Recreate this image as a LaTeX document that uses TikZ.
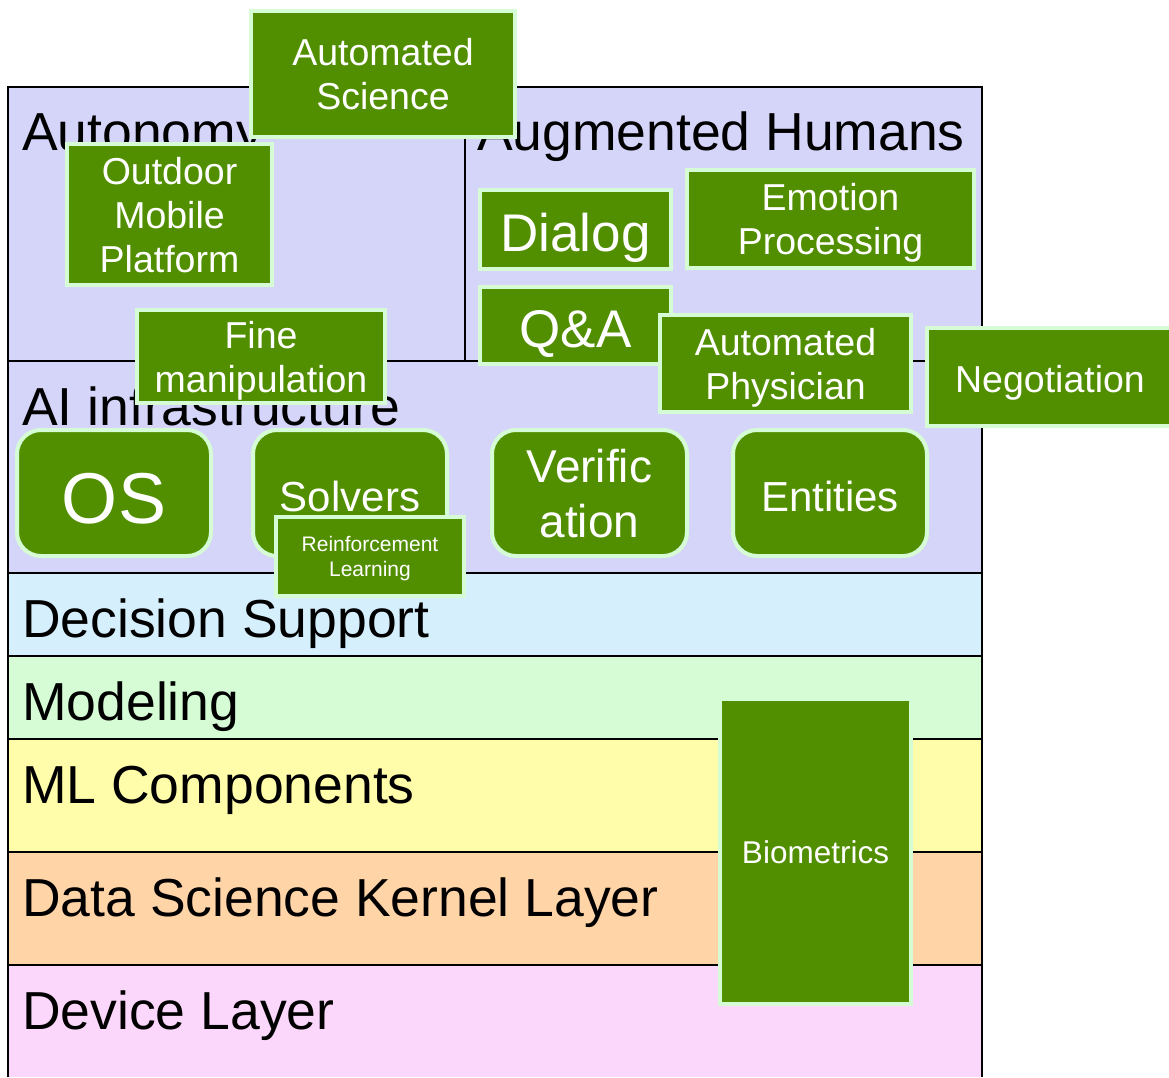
\documentclass[tikz,border=0pt]{standalone}
\usepackage{fontspec}
\setmainfont{Liberation Sans}
\definecolor{boxgreen}{HTML}{518F00}
\definecolor{boxedge}{HTML}{D6FCD6}
\definecolor{lavender}{HTML}{D5D5FA}
\definecolor{skyband}{HTML}{D5EFFD}
\definecolor{mintband}{HTML}{D5FCD5}
\definecolor{lemonband}{HTML}{FFFCAA}
\definecolor{peachband}{HTML}{FFD5A8}
\definecolor{pinkband}{HTML}{FCD7FC}

\begin{document}
\begin{tikzpicture}[x=1pt, y=-1pt,
    greenbox/.style={draw=boxedge, line width=4pt, fill=boxgreen, text=white,
      align=center, inner sep=0pt, text depth=0pt, font=\fontsize{37.5}{44}\selectfont},
    roundbox/.style={greenbox, rounded corners=24pt},
    oneline/.style={text height=#1, text depth=0pt},
    bandlabel/.style={anchor=base west, inner sep=0pt, font=\fontsize{53.5}{60}\selectfont}]

  \useasboundingbox (0,0) rectangle (1169,1077);

  % Autonomy / Augmented Humans / AI infrastructure
  \fill[lavender] (8,87) rectangle (982,573);

  % Lower layers
  \foreach \i/\ytop/\ybot/\col/\txt in {1/573/656/skyband/Decision Support,
      2/656/739/mintband/Modeling, 3/739/852/lemonband/ML Components,
      4/852/965/peachband/Data Science Kernel Layer, 5/965/1077/pinkband/Device Layer} {
    \fill[\col] (8,\ytop) rectangle (982,\ybot);
    \draw[line width=2pt] (8,\ytop) -- (982,\ytop);
    \node[bandlabel] (layer\i) at (22,\ytop+64) {\txt};
  }

  % Frame
  \draw[line width=2pt] (8,1077) -- (8,87) -- (982,87) -- (982,1077);
  \draw[line width=2pt] (8,361) -- (982,361);
  \draw[line width=2pt] (465,87) -- (465,361);

  \node[bandlabel] (autonomy) at (22,150) {Autonomy};
  \node[bandlabel, anchor=base east] (augmented) at (965,150) {Augmented Humans};
  \node[bandlabel] (aiinfra) at (22,425) {AI infrastructure};

  % AI infrastructure boxes
  \node[roundbox, oneline=60pt, minimum width=194, minimum height=126, font=\fontsize{72}{80}\selectfont] (os) at (114,493) {OS};
  \node[roundbox, oneline=36pt, minimum width=194, minimum height=126, font=\fontsize{42}{50}\selectfont] (solvers) at (350,493) {Solvers};
  \node[roundbox, minimum width=195, minimum height=126, font=\fontsize{46}{55}\selectfont] (verif) at (589.5,493) {Verific\\ation};
  \node[roundbox, oneline=36pt, minimum width=194, minimum height=126, font=\fontsize{42}{50}\selectfont] (entities) at (830,493) {Entities};
  \node[greenbox, minimum width=188, minimum height=79, font=\fontsize{21}{25}\selectfont] (reinf) at (370,556.5) {Reinforcement\\Learning};

  % Autonomy boxes
  \node[greenbox, minimum width=205, minimum height=141] (outdoor) at (169.5,214.5) {Outdoor\\Mobile\\Platform};
  \node[greenbox, minimum width=248, minimum height=93] (finemanip) at (261,356.5) {Fine\\manipulation};
  \node[greenbox, minimum width=264, minimum height=126] (autosci) at (383,74) {Automated\\Science};

  % Augmented Humans boxes
  \node[greenbox, oneline=43pt, minimum width=191, minimum height=79, font=\fontsize{53}{60}\selectfont] (dialog) at (575.5,229.5) {Dialog};
  \node[greenbox, minimum width=287, minimum height=98] (emotion) at (830.5,219) {Emotion\\Processing};
  \node[greenbox, oneline=43pt, minimum width=191, minimum height=77, font=\fontsize{53}{60}\selectfont] (qa) at (575.5,325.5) {Q\&A};
  \node[greenbox, minimum width=251, minimum height=97] (autophys) at (785.5,363.5) {Automated\\Physician};
  \node[greenbox, oneline=30pt, minimum width=246, minimum height=98] (negot) at (1050,377) {Negotiation};

  % Cross-layer box
  \node[greenbox, oneline=23pt, minimum width=191, minimum height=305, font=\fontsize{31.5}{37}\selectfont] (biometrics) at (815.5,851.5) {Biometrics};
\end{tikzpicture}
\end{document}
